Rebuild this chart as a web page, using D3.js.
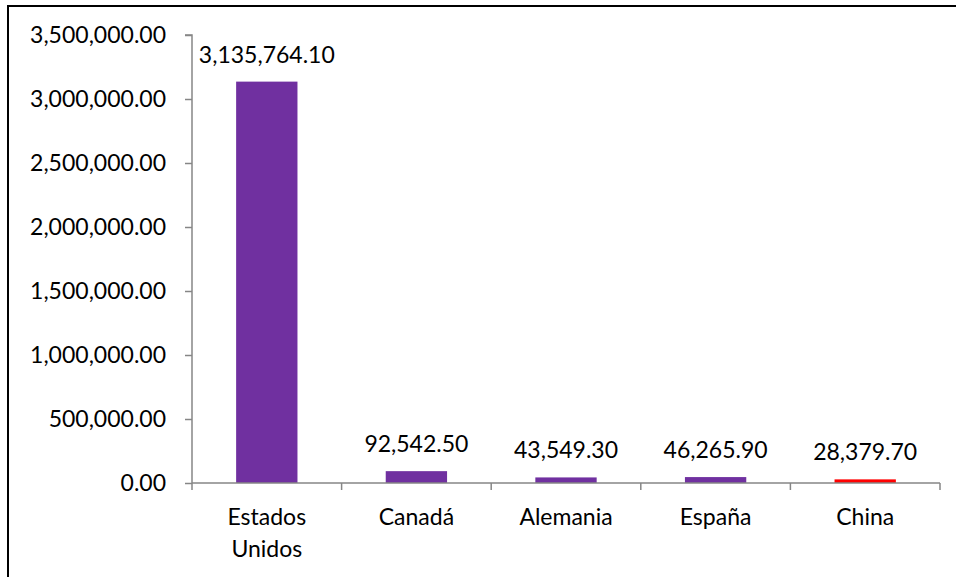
<!DOCTYPE html>
<html><head><meta charset="utf-8">
<script src="https://cdn.jsdelivr.net/npm/d3@7"></script>
<style>body{margin:0;background:#fff;}svg{display:block;}</style>
</head><body>
<svg id="c" width="956" height="577"></svg>
<script>
const categories = [["Estados","Unidos"],["Canadá"],["Alemania"],["España"],["China"]];
const values = [3135764.10, 92542.50, 43549.30, 46265.90, 28379.70];
const barColors = ["#7030A0","#7030A0","#7030A0","#7030A0","#FF0000"];
const yTicks = [0, 500000, 1000000, 1500000, 2000000, 2500000, 3000000, 3500000];

(function(){
const svg = d3.select("#c");
const FONT = "Lato, 'Open Sans', sans-serif";
const FS = 23;
const mL = 192, mR = 940, mT = 35, mB = 483;
const AX = "#868686";

svg.append("rect").attr("x",8).attr("y",6).attr("width",1200).attr("height",1200)
  .attr("fill","none").attr("stroke","#000").attr("stroke-width",2);

const idx = d3.range(values.length);
const x = d3.scaleBand().domain(idx).range([mL, mR]).paddingInner(0.59).paddingOuter(0.295);
const xc = d3.scaleBand().domain(idx).range([mL, mR]);
const y = d3.scaleLinear().domain([0, 3500000]).range([mB, mT]);
const fmt = d3.format(",.2f");

const yAxis = d3.axisLeft(y).tickValues(yTicks).tickFormat(fmt).tickSize(7).tickPadding(19);
const gy = svg.append("g").attr("transform",`translate(${mL},0)`).call(yAxis);
gy.select(".domain").attr("stroke",AX).attr("stroke-width",1.5).attr("d",`M-7,${mT}H0V${mB}`);
gy.selectAll(".tick line").attr("stroke",AX).attr("stroke-width",1.5);
gy.selectAll("text").attr("font-family",FONT).attr("font-size",FS).attr("fill","#000");

svg.selectAll("rect.bar").data(values).enter().append("rect").attr("class","bar")
  .attr("x",(d,i)=>x(i)).attr("width",x.bandwidth())
  .attr("y",d=>y(d)).attr("height",d=>y(0)-y(d))
  .attr("fill",(d,i)=>barColors[i]);

const gx = svg.append("g").attr("transform",`translate(0,${mB})`);
gx.append("line").attr("x1",mL).attr("x2",mR).attr("stroke",AX).attr("stroke-width",1.5);
const bounds = idx.map(i=>xc(i)).concat([mR]);
gx.selectAll("line.t").data(bounds).enter().append("line").attr("class","t")
  .attr("x1",d=>d).attr("x2",d=>d).attr("y1",0).attr("y2",7).attr("stroke",AX).attr("stroke-width",1.5);

categories.forEach((lines,i)=>{
  const t = svg.append("text").attr("text-anchor","middle").attr("font-family",FONT).attr("font-size",FS).attr("fill","#000");
  lines.forEach((l,j)=>{
    t.append("tspan").attr("x",xc(i)+xc.bandwidth()/2).attr("y",525+j*32).text(l);
  });
});

svg.selectAll("text.v").data(values).enter().append("text").attr("class","v")
  .attr("x",(d,i)=>x(i)+x.bandwidth()/2).attr("y",d=>y(d)-19)
  .attr("text-anchor","middle").attr("font-family",FONT).attr("font-size",FS).attr("fill","#000")
  .text(d=>fmt(d));
})();
</script>
</body></html>
